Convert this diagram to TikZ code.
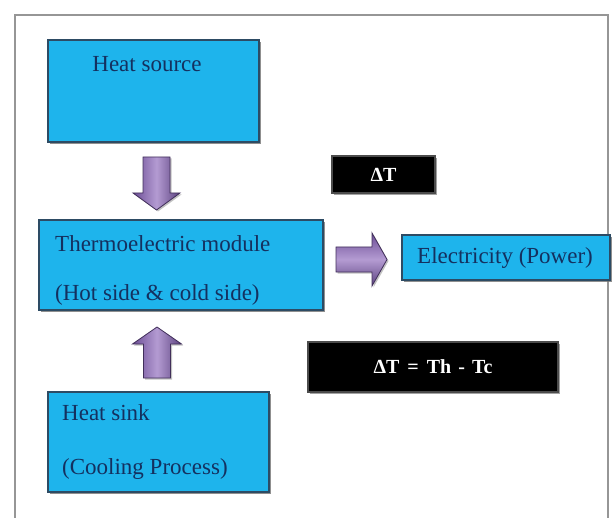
\documentclass[tikz,border=0pt]{standalone}
\usepackage{fontspec}
\setmainfont{Liberation Serif}
\usetikzlibrary{shadows,calc}
\definecolor{boxblue}{RGB}{30,180,236}
\definecolor{boxedge}{RGB}{45,75,100}
\definecolor{txtblue}{RGB}{20,48,95}
\definecolor{arrdark}{RGB}{108,78,150}
\definecolor{arrlight}{RGB}{180,155,210}
\definecolor{framegray}{RGB}{150,150,150}
\tikzset{
  bluebox/.style={draw=boxedge, line width=1.2pt, fill=boxblue, inner sep=0pt,
    drop shadow={shadow xshift=2pt, shadow yshift=-2pt, fill=black!55, opacity=.8}},
  blackbox/.style={draw=black!70, line width=1.2pt, fill=black, inner sep=0pt,
    drop shadow={shadow xshift=2pt, shadow yshift=-2pt, fill=black!45, opacity=.8}},
  btxt/.style={text=txtblue, font=\fontsize{23}{26}\selectfont, inner sep=0pt, anchor=base west},
  wtxt/.style={text=white, font=\bfseries\fontsize{20}{22}\selectfont, inner sep=0pt},
  varrow/.style={draw=arrdark!60!black, line width=0.8pt, line join=miter,
    left color=arrdark, right color=arrdark!85!black, middle color=arrlight,
    drop shadow={shadow xshift=1.5pt, shadow yshift=-1.5pt, fill=black!40, opacity=.6}},
  harrow/.style={draw=arrdark!60!black, line width=0.8pt, line join=miter,
    top color=arrdark, bottom color=arrdark!85!black, middle color=arrlight,
    drop shadow={shadow xshift=1.5pt, shadow yshift=-1.5pt, fill=black!40, opacity=.6}}
}
\begin{document}
\begin{tikzpicture}[x=1pt,y=-1pt]
\useasboundingbox (0,0) rectangle (612,518);
% frame
\draw[framegray, line width=2.5pt] (15,518) -- (15,15) -- (608,15) -- (608,518);
% boxes
\node[bluebox, minimum width=211pt, minimum height=102pt] (hs) at (153.5,91) {};
\node[bluebox, minimum width=284pt, minimum height=90pt] (tm) at (181,265) {};
\node[bluebox, minimum width=221pt, minimum height=100pt] (sink) at (158.5,442) {};
\node[bluebox, minimum width=208pt, minimum height=45pt] (el) at (506,257.5) {};
\node[blackbox, minimum width=103pt, minimum height=37pt] (dt) at (383.5,174.5) {};
\node[blackbox, minimum width=250pt, minimum height=50pt] (eq) at (433,367) {};
% texts
\node[btxt, anchor=base] (hst) at (147,72) {Heat source};
\node[btxt] (tm1) at (55,252) {Thermoelectric module};
\node[btxt] (tm2) at (55,300) {(Hot side \& cold side)};
\node[btxt] (sk1) at (62,420) {Heat sink};
\node[btxt] (sk2) at (62,474) {(Cooling Process)};
\node[btxt] (elt) at (417,264) {Electricity (Power)};
\node[wtxt] (dtt) at (dt) {ΔT};
\node[wtxt] (eqt) at (eq) {ΔT\hspace{8pt}=\hspace{8pt}Th\hspace{7pt}-\hspace{7pt}Tc};
% block arrows
\coordinate (a1) at (156.5,157);
\path[varrow] (a1) ++(-13.5,0) -- ++(27,0) -- ++(0,36) -- ++(10,0) -- ++(-23.5,17) -- ++(-23.5,-17) -- ++(10,0) -- cycle;
\coordinate (a2) at (157,378);
\path[varrow] (a2) ++(-13.5,0) -- ++(27,0) -- ++(0,-34) -- ++(11,0) -- ++(-24.5,-17) -- ++(-24.5,17) -- ++(11,0) -- cycle;
\coordinate (a3) at (336,259.5);
\path[harrow] (a3) ++(0,-12.5) -- ++(36,0) -- ++(0,-14) -- ++(15,26.5) -- ++(-15,26.5) -- ++(0,-14) -- ++(-36,0) -- cycle;
\end{tikzpicture}
\end{document}
